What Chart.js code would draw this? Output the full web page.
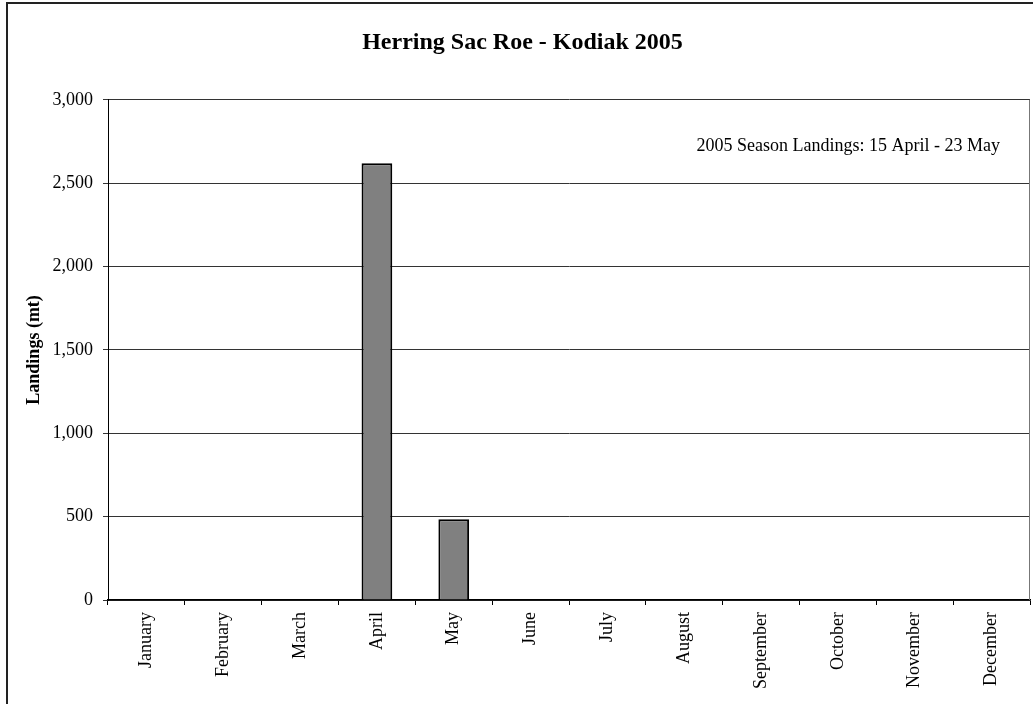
<!DOCTYPE html>
<html>
<head>
<meta charset="utf-8">
<script src="https://cdn.jsdelivr.net/npm/chart.js@4/dist/chart.umd.min.js"></script>
<style>
html,body{margin:0;padding:0;background:#fff;overflow:hidden;width:1033px;height:704px;}
#frame{position:absolute;left:6px;top:2px;width:2000px;height:2000px;border-left:2px solid #222;border-top:2px solid #222;}
#c{position:absolute;left:0;top:0;}
</style>
</head>
<body>
<div id="frame"></div>
<canvas id="c" width="1033" height="704"></canvas>
<script>
const months = ['January','February','March','April','May','June','July','August','September','October','November','December'];
const landings = [0,0,0,2620,485,0,0,0,0,0,0,0];
const yTicks = [0,500,1000,1500,2000,2500,3000];
const chartTitle = 'Herring Sac Roe - Kodiak 2005';
const yTitle = 'Landings (mt)';
const note = '2005 Season Landings: 15 April - 23 May';

const FONT = "'Liberation Serif','Times New Roman',serif";

const notePlugin = {
  id: 'note',
  afterDraw(chart) {
    const {ctx, chartArea} = chart;
    ctx.save();
    ctx.font = '18px ' + FONT;
    ctx.fillStyle = '#000';
    ctx.textAlign = 'right';
    ctx.textBaseline = 'alphabetic';
    ctx.fillText(note, chartArea.right - 30, chartArea.top + 51);
    // plot area right border
    ctx.strokeStyle = '#777';
    ctx.lineWidth = 1;
    ctx.beginPath();
    ctx.moveTo(chartArea.right - 0.5, chartArea.top);
    ctx.lineTo(chartArea.right - 0.5, chartArea.bottom);
    ctx.stroke();
    ctx.restore();
  }
};

new Chart(document.getElementById('c'), {
  type: 'bar',
  data: {
    labels: months,
    datasets: [{
      data: landings,
      backgroundColor: '#808080',
      borderColor: '#000',
      borderWidth: 2,
      barPercentage: 0.4,
      categoryPercentage: 1.0
    }]
  },
  options: {
    responsive: false,
    animation: false,
    devicePixelRatio: 1,
    layout: { padding: { left: 15, right: 3, top: 0, bottom: 0 } },
    plugins: {
      legend: { display: false },
      tooltip: { enabled: false },
      title: {
        display: true,
        text: chartTitle,
        color: '#000',
        font: { family: FONT, size: 24, weight: 'bold' },
        padding: { top: 28, bottom: 43 }
      }
    },
    scales: {
      x: {
        grid: { drawOnChartArea: false, drawTicks: true, tickLength: 5, color: '#000', offset: true },
        border: { color: '#000', width: 1.5 },
        ticks: {
          color: '#000',
          font: { family: FONT, size: 18 },
          minRotation: 90, maxRotation: 90,
          padding: 7,
          autoSkip: false
        },
        afterFit(scale) { scale.height = 104; }
      },
      y: {
        min: 0, max: 3000,
        grid: { color: '#333', lineWidth: 1, drawTicks: true, tickLength: 5 },
        border: { color: '#000', width: 1 },
        ticks: {
          color: '#000',
          font: { family: FONT, size: 18 },
          padding: 10,
          stepSize: 500,
          callback: v => yTicks.includes(v) ? v.toLocaleString('en-US') : null
        },
        title: {
          display: true,
          text: yTitle,
          color: '#000',
          font: { family: FONT, size: 18, weight: 'bold' },
          padding: { top: 9, bottom: 0 }
        },
        afterFit(scale) { scale.width = 93; }
      }
    }
  },
  plugins: [notePlugin]
});
</script>
</body>
</html>
